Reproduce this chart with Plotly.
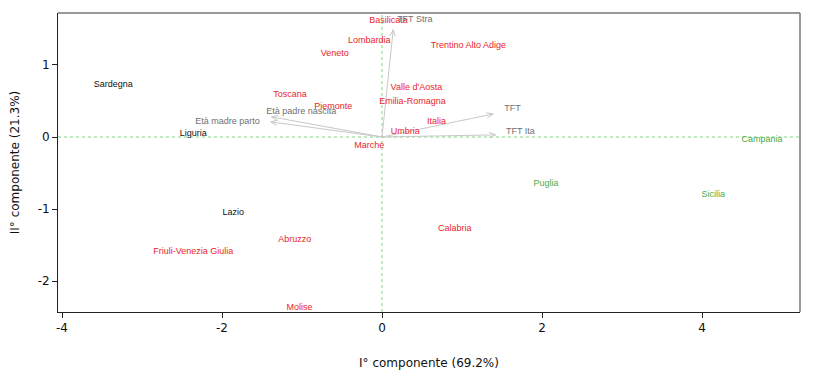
import math
import plotly.graph_objects as go

# Region scores (PC1, PC2) and cluster group
regions = ["Basilicata", "Lombardia", "Trentino Alto Adige", "Veneto", "Sardegna",
           "Valle d'Aosta", "Toscana", "Piemonte", "Emilia-Romagna", "Liguria",
           "Italia", "Umbria", "Campania", "Marche", "Puglia", "Sicilia", "Lazio",
           "Calabria", "Abruzzo", "Friuli-Venezia Giulia", "Molise"]
pc1 = [0.08, -0.16, 1.08, -0.59, -3.36, 0.43, -1.15, -0.61, 0.38, -2.36,
       0.68, 0.29, 4.75, -0.16, 2.05, 4.14, -1.86, 0.91, -1.09, -2.36, -1.03]
pc2 = [1.61, 1.34, 1.27, 1.16, 0.73, 0.69, 0.59, 0.42, 0.49, 0.05,
       0.21, 0.08, -0.04, -0.12, -0.65, -0.80, -1.05, -1.27, -1.42, -1.59, -2.37]
group = ["A", "A", "A", "A", "B", "A", "A", "A", "A", "B",
         "A", "A", "C", "A", "C", "C", "B", "A", "A", "A", "A"]

# Variable loadings (arrow tips) and their label positions
variables = ["TFT Stra", "TFT", "TFT Ita", "Età padre nascita", "Età madre parto"]
load1 = [0.14, 1.39, 1.42, -1.38, -1.39]
load2 = [1.49, 0.32, 0.03, 0.28, 0.21]
lab1 = [0.41, 1.63, 1.73, -1.01, -1.93]
lab2 = [1.63, 0.39, 0.08, 0.35, 0.21]

# Tick labels
xticks = [-4, -2, 0, 2, 4]
xticklabels = ["-4", "-2", "0", "2", "4"]
yticks = [-2, -1, 0, 1]
yticklabels = ["-2", "-1", "0", "1"]

group_colors = {"A": "#e8262b", "B": "#111111", "C": "#4daa4a"}

W, H = 806, 367
ML, MR, MT, MB = 50, 14, 5, 63
XR = [-4.05, 5.225]
YR = [-2.43, 1.722]
sx = (W - ML - MR) / (XR[1] - XR[0])   # px per x unit
sy = (H - MT - MB) / (YR[1] - YR[0])   # px per y unit

fig = go.Figure()

# arrows (shaft + open V head) in light gray
ax_pts, ay_pts = [], []
head_len, head_ang = 7.0, math.radians(22)
for vx, vy in zip(load1, load2):
    ax_pts += [0, vx, None]
    ay_pts += [0, vy, None]
    ang = math.atan2(vy * sy, vx * sx)
    for s in (1, -1):
        a = ang + math.pi + s * head_ang
        hx = vx + head_len * math.cos(a) / sx
        hy = vy + head_len * math.sin(a) / sy
        ax_pts += [vx, hx, None]
        ay_pts += [vy, hy, None]
fig.add_trace(go.Scatter(x=ax_pts, y=ay_pts, mode="lines",
                         line=dict(color="#c8c8c8", width=1),
                         hoverinfo="skip", showlegend=False))

fig.add_trace(go.Scatter(
    x=pc1, y=pc2, mode="text", text=regions,
    textfont=dict(family="Liberation Sans", size=9,
                  color=[group_colors[g] for g in group]),
    hoverinfo="text", showlegend=False, cliponaxis=False))

fig.add_trace(go.Scatter(
    x=lab1, y=lab2, mode="text", text=variables,
    textfont=dict(family="Liberation Sans", size=9, color="#707070"),
    hoverinfo="text", showlegend=False, cliponaxis=False))

# reference dashed lines
fig.add_shape(type="line", xref="x", yref="paper", x0=0, x1=0, y0=0, y1=1,
              line=dict(color="#7fd67f", width=1, dash="dot"), layer="below")
fig.add_shape(type="line", xref="paper", yref="y", x0=0, x1=1, y0=0, y1=0,
              line=dict(color="#7fd67f", width=1, dash="dot"), layer="below")
# top / right border
fig.add_shape(type="line", xref="paper", yref="paper", x0=0, x1=1, y0=1, y1=1,
              line=dict(color="#777777", width=1.5))
fig.add_shape(type="line", xref="paper", yref="paper", x0=1, x1=1, y0=0, y1=1,
              line=dict(color="#777777", width=1.5))

fig.update_layout(
    width=W, height=H,
    margin=dict(l=ML, r=MR, t=MT, b=MB),
    paper_bgcolor="white", plot_bgcolor="white",
    font=dict(family="DejaVu Sans", size=12, color="#111111"),
    xaxis=dict(range=XR, tickvals=xticks, ticktext=xticklabels,
               showgrid=False, zeroline=False, showline=True, automargin=False,
               linecolor="#222222", linewidth=1, ticks="outside", ticklen=5,
               tickcolor="#222222", tickfont=dict(size=12),
               title=dict(text="I° componente (69.2%)", font=dict(size=12),
                          standoff=24)),
    yaxis=dict(range=YR, tickvals=yticks, ticktext=yticklabels,
               showgrid=False, zeroline=False, showline=True, automargin=False,
               linecolor="#222222", linewidth=1, ticks="outside", ticklen=5,
               tickcolor="#222222", tickfont=dict(size=12),
               title=dict(text="II° componente (21.3%)", font=dict(size=12),
                          standoff=24)),
)

fig.write_html("out.html")
